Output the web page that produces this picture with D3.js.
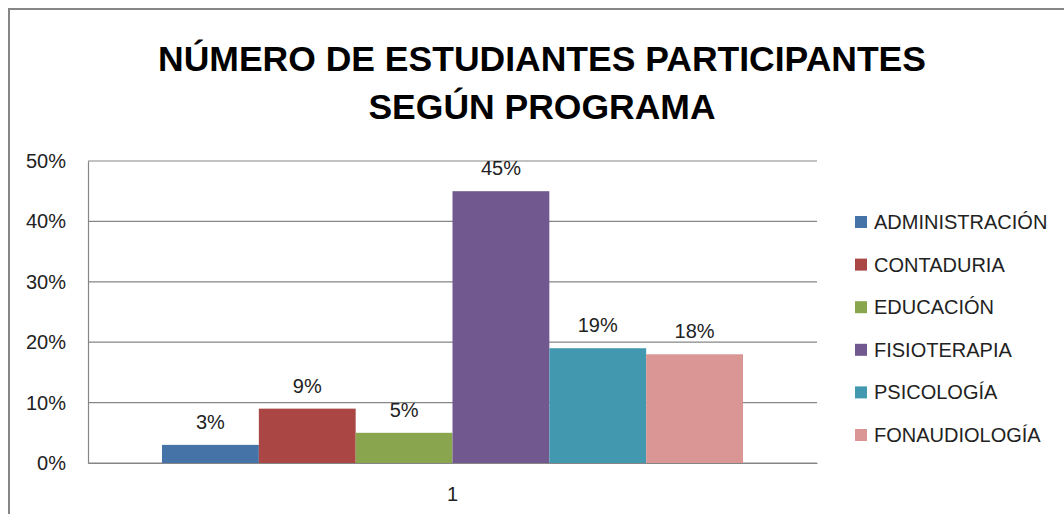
<!DOCTYPE html>
<html>
<head>
<meta charset="utf-8">
<script src="https://cdn.jsdelivr.net/npm/d3@7"></script>
<style>
  body { margin: 0; background: #fff; }
  svg { display: block; font-family: "Liberation Sans", Arial, sans-serif; }
</style>
</head>
<body>
<div id="chart"></div>
<script>
const programs = ["ADMINISTRACIÓN", "CONTADURIA", "EDUCACIÓN", "FISIOTERAPIA", "PSICOLOGÍA", "FONAUDIOLOGÍA"];
const shares = [0.03, 0.09, 0.05, 0.45, 0.19, 0.18];
const colors = ["#4572A7", "#AA4643", "#89A54E", "#71588F", "#4198AF", "#D99694"];
const groups = ["1"];
const yTicks = [0, 0.1, 0.2, 0.3, 0.4, 0.5];
const titleLines = ["NÚMERO DE ESTUDIANTES PARTICIPANTES", "SEGÚN PROGRAMA"];

const width = 1064, height = 514;
const plot = {left: 88, right: 817, top: 161, bottom: 463};

const svg = d3.select("#chart").append("svg")
    .attr("width", width)
    .attr("height", height);

// outer chart border (runs off the right/bottom edge like the picture)
svg.append("rect")
    .attr("x", 9).attr("y", 9)
    .attr("width", width + 10).attr("height", height + 10)
    .attr("fill", "#fff")
    .attr("stroke", "#868686")
    .attr("stroke-width", 2);

svg.append("g")
    .selectAll("text")
    .data(titleLines)
    .join("text")
    .attr("x", 542)
    .attr("y", (d, i) => 71 + i * 48)
    .attr("text-anchor", "middle")
    .attr("font-size", 35.5)
    .attr("font-weight", "bold")
    .attr("fill", "#000")
    .text(d => d);

const x0 = d3.scaleBand().domain(groups).range([plot.left, plot.right]).paddingInner(0).paddingOuter(0);
const x1 = d3.scaleBand().domain(programs).range([x0("1") + 74, x0("1") + x0.bandwidth() - 74]);
const y = d3.scaleLinear().domain([0, 0.5]).range([plot.bottom, plot.top]);

// gridlines
svg.append("g")
    .selectAll("line")
    .data(yTicks)
    .join("line")
    .attr("x1", plot.left).attr("x2", plot.right)
    .attr("y1", d => y(d)).attr("y2", d => y(d))
    .attr("stroke", "#868686")
    .attr("stroke-width", 1.2);

// y axis
svg.append("g")
    .attr("transform", `translate(${plot.left},0)`)
    .call(d3.axisLeft(y).tickValues(yTicks).tickFormat(d3.format(".0%")).tickSize(0).tickPadding(22))
    .call(g => g.select(".domain").attr("stroke", "#868686").attr("stroke-width", 1.2))
    .call(g => g.selectAll("text").attr("font-size", 20).attr("fill", "#222").attr("font-family", "Liberation Sans, Arial, sans-serif"));

// bars
svg.append("g")
    .selectAll("rect")
    .data(programs)
    .join("rect")
    .attr("x", d => x1(d))
    .attr("y", (d, i) => y(shares[i]))
    .attr("width", x1.bandwidth())
    .attr("height", (d, i) => y(0) - y(shares[i]))
    .attr("fill", (d, i) => colors[i]);

// data labels
svg.append("g")
    .selectAll("text")
    .data(programs)
    .join("text")
    .attr("x", d => x1(d) + x1.bandwidth() / 2)
    .attr("y", (d, i) => y(shares[i]) - 16)
    .attr("text-anchor", "middle")
    .attr("font-size", 20)
    .attr("fill", "#222")
    .text((d, i) => d3.format(".0%")(shares[i]));

// x axis
svg.append("g")
    .attr("transform", `translate(0,${plot.bottom})`)
    .call(d3.axisBottom(x0).tickSize(0).tickPadding(24))
    .call(g => g.select(".domain").attr("stroke", "#868686").attr("stroke-width", 1.2))
    .call(g => g.selectAll("text").attr("font-size", 20).attr("fill", "#222").attr("font-family", "Liberation Sans, Arial, sans-serif"));

// legend
const legend = svg.append("g")
    .selectAll("g")
    .data(programs)
    .join("g")
    .attr("transform", (d, i) => `translate(855,${222 + i * 42.6})`);

legend.append("rect")
    .attr("x", 0).attr("y", -6)
    .attr("width", 12).attr("height", 12)
    .attr("fill", (d, i) => colors[i]);

legend.append("text")
    .attr("x", 19)
    .attr("y", 7)
    .attr("font-size", 20)
    .attr("fill", "#222")
    .text(d => d);
</script>
</body>
</html>
